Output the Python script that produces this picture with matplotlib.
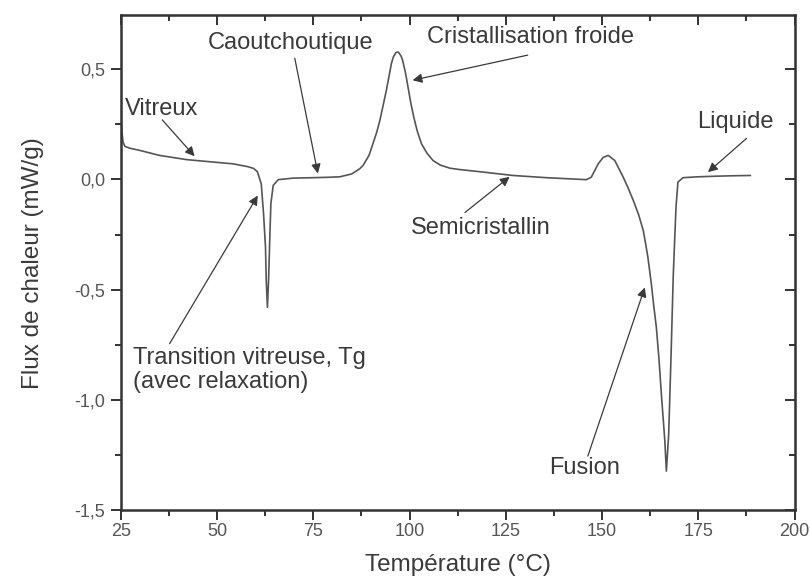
import numpy as np
import matplotlib.pyplot as plt
from matplotlib.ticker import MultipleLocator, FuncFormatter

plt.rcParams['font.family'] = ['Liberation Sans', 'DejaVu Sans']

# DSC curve
temp = [25.1, 25.3, 25.6, 26.1, 27.3, 29.9, 35.1, 42.1, 48.9, 54.1, 58.0, 59.5,
        60.5, 61.5, 62.1, 62.6, 62.8, 63.1, 63.4, 63.7, 64.0, 64.6, 65.9, 69.8,
        75.0, 79.3, 81.9, 85.0, 87.1, 88.0, 89.5, 90.5, 91.5, 92.3, 93.2, 94.0,
        95.3, 95.8, 96.5, 97.1, 97.8, 98.2, 99.0, 99.6, 100.3, 101.1, 102.0,
        103.1, 104.5, 106.1, 108.0, 110.5, 113.0, 117.8, 126.9, 135.5, 145.9,
        147.2, 149.0, 150.3, 151.6, 153.3, 155.5, 156.8, 158.1, 159.5, 160.7,
        161.3, 161.9, 162.8, 163.4, 164.1, 164.8, 165.4, 166.3, 166.7, 167.3,
        167.9, 168.5, 169.2, 169.7, 171.0, 175.0, 180.0, 185.0, 188.5]
flux = [0.28, 0.22, 0.17, 0.15, 0.142, 0.132, 0.109, 0.09, 0.079, 0.071, 0.058, 0.05,
        0.035, -0.02, -0.156, -0.308, -0.459, -0.58, -0.459, -0.277, -0.11, -0.027,
        -0.001, 0.006, 0.008, 0.01, 0.012, 0.025, 0.049, 0.065, 0.11, 0.162, 0.215,
        0.268, 0.34, 0.405, 0.526, 0.556, 0.576, 0.578, 0.56, 0.541, 0.48, 0.42,
        0.35, 0.283, 0.22, 0.162, 0.12, 0.086, 0.065, 0.051, 0.045, 0.036, 0.018,
        0.008, -0.001, 0.01, 0.071, 0.1, 0.109, 0.086, 0.01, -0.04, -0.095, -0.16,
        -0.232, -0.29, -0.353, -0.474, -0.57, -0.671, -0.82, -0.974, -1.186,
        -1.323, -1.156, -0.808, -0.429, -0.126, -0.012, 0.008, 0.012, 0.015,
        0.017, 0.018]

# annotations: text, text position, arrow head, arrow tail
labels = ['Vitreux', 'Caoutchoutique', 'Cristallisation froide', 'Semicristallin',
          'Liquide', 'Fusion', 'Transition vitreuse, Tg\n(avec relaxation)']
text_xy = [(35.6, 0.32), (69.2, 0.62), (131.5, 0.645), (118.5, -0.22),
           (184.5, 0.26), (145.5, -1.31), (28.1, -0.864)]
head_xy = [(44.2, 0.105), (76.2, 0.027), (100.8, 0.45), (126.0, 0.012),
           (177.5, 0.033), (161.1, -0.49), (60.6, -0.073)]
tail_xy = [(35.8, 0.27), (70.2, 0.55), (130.7, 0.564), (114.4, -0.15),
           (187.5, 0.186), (146.3, -1.255), (37.7, -0.745)]
text_ha = ['center', 'center', 'center', 'center', 'center', 'center', 'left']

dark = '#3a3a3a'

fig = plt.figure(figsize=(8.1, 5.85), dpi=100)
ax = fig.add_axes([0.149, 0.128, 0.832, 0.846])

ax.plot(temp, flux, color='#555555', lw=1.2)

for lab, txy, hxy, sxy, ha in zip(labels, text_xy, head_xy, tail_xy, text_ha):
    ax.text(txy[0], txy[1], lab, ha=ha, va='center', fontsize=17, color=dark,
            linespacing=1.15)
    ax.annotate('', xy=hxy, xytext=sxy,
                arrowprops=dict(arrowstyle='-|>', color=dark, lw=0.9,
                                mutation_scale=14, shrinkA=0, shrinkB=0))

ax.set_xlim(25, 200)
ax.set_ylim(-1.5, 0.745)
ax.xaxis.set_major_locator(MultipleLocator(25))
ax.xaxis.set_minor_locator(MultipleLocator(12.5))
ax.yaxis.set_major_locator(MultipleLocator(0.5))
ax.yaxis.set_minor_locator(MultipleLocator(0.25))
ax.yaxis.set_major_formatter(FuncFormatter(lambda v, p: f'{v:.1f}'.replace('.', ',')))

for s in ax.spines.values():
    s.set_linewidth(1.8)
    s.set_color('#333333')

ax.tick_params(which='both', direction='out', color='#333333', width=1.4,
               labelsize=13, labelcolor='#555555')
ax.tick_params(which='major', length=7)
ax.tick_params(which='minor', length=4)
ax.tick_params(axis='x', pad=2)
ax.tick_params(axis='y', pad=4)

# mirrored ticks pointing inwards on top and right
axt = ax.secondary_xaxis('top')
axt.xaxis.set_major_locator(MultipleLocator(25))
axt.xaxis.set_minor_locator(MultipleLocator(12.5))
axt.tick_params(which='both', direction='in', color='#333333', width=1.4,
                labeltop=False)
axt.tick_params(which='major', length=7)
axt.tick_params(which='minor', length=4)
axr = ax.secondary_yaxis('right')
axr.yaxis.set_major_locator(MultipleLocator(0.5))
axr.yaxis.set_minor_locator(MultipleLocator(0.25))
axr.tick_params(which='both', direction='in', color='#333333', width=1.4,
                labelright=False)
axr.tick_params(which='major', length=7)
axr.tick_params(which='minor', length=4)

ax.set_xlabel('Température (°C)', fontsize=17.5, color=dark, labelpad=10)
ax.set_ylabel('Flux de chaleur (mW/g)', fontsize=17.5, color=dark, labelpad=22)

fig.savefig('out.png', dpi=100)
